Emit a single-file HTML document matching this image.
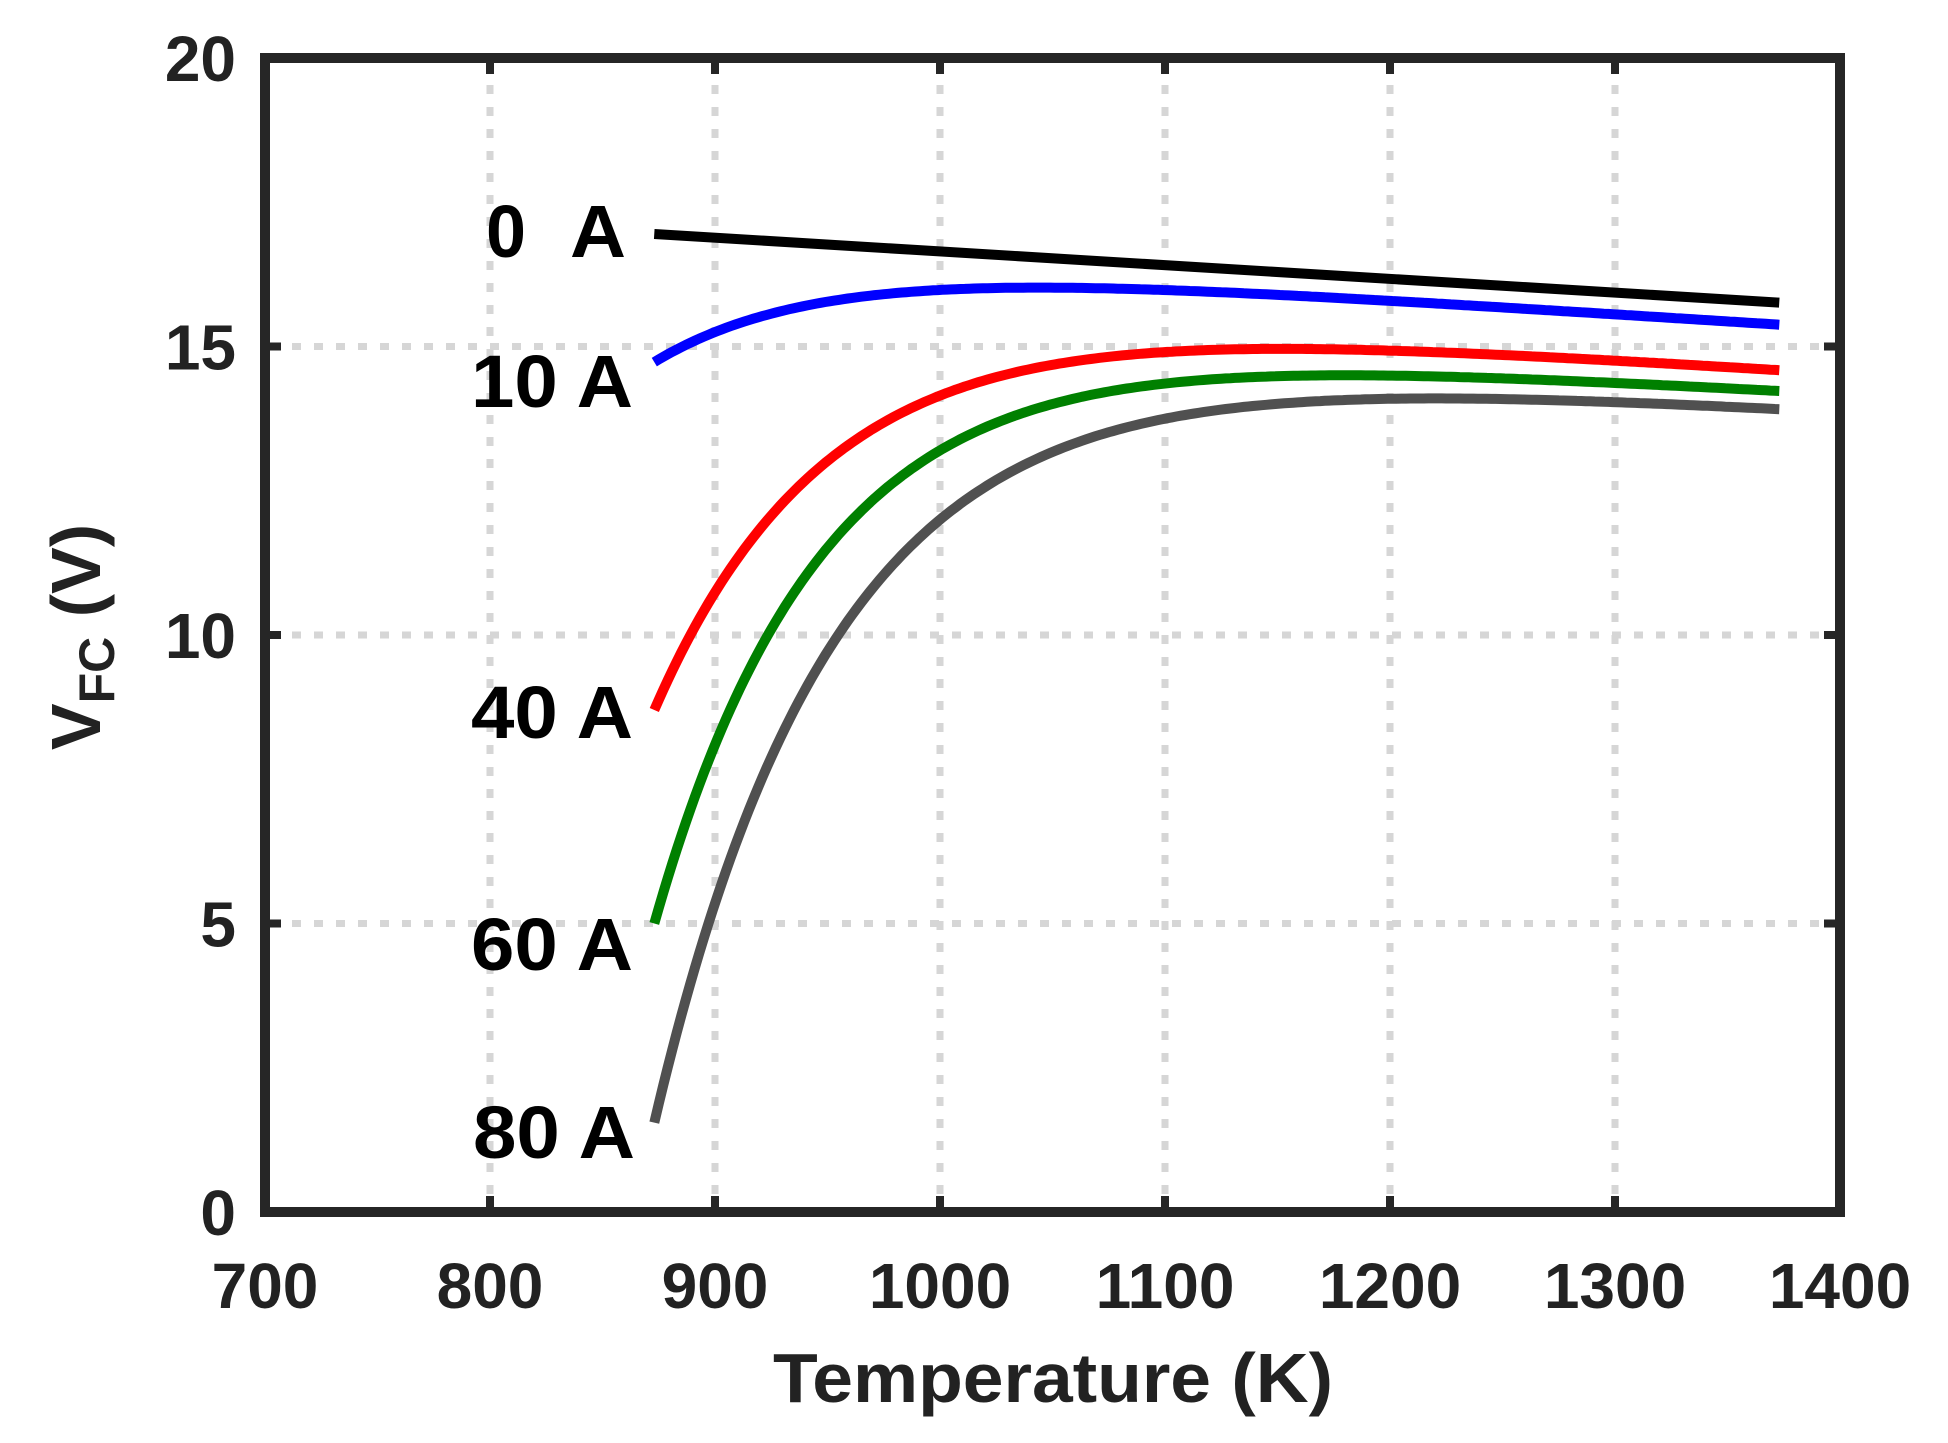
<!DOCTYPE html>
<html><head><meta charset="utf-8"><style>
html,body{margin:0;padding:0;background:#fff}
svg{display:block}
text{font-family:"Liberation Sans",Arial,sans-serif;font-weight:bold;fill:#222}
</style></head><body>
<svg id="s" width="1948" height="1443" viewBox="0 0 1948 1443" xmlns="http://www.w3.org/2000/svg">
<g id="grid" stroke="#d6d6d6" stroke-width="7" stroke-dasharray="9 13"></g>
<g id="curves" fill="none" stroke-width="10" stroke-linejoin="round"></g>
<rect x="265" y="58" width="1575" height="1154" fill="none" stroke="#262626" stroke-width="10"/>
<g id="ticks" stroke="#262626" stroke-width="8"></g>
<g id="labels" font-size="64"></g>
<g font-size="74">
<text x="486" y="257" style="fill:#000" textLength="40" lengthAdjust="spacingAndGlyphs">0</text>
<text x="570" y="257" style="fill:#000" textLength="56" lengthAdjust="spacingAndGlyphs">A</text>
<text x="633" y="407" text-anchor="end" style="fill:#000" textLength="162" lengthAdjust="spacingAndGlyphs">10 A</text>
<text x="633" y="738" text-anchor="end" style="fill:#000" textLength="162" lengthAdjust="spacingAndGlyphs">40 A</text>
<text x="633" y="970" text-anchor="end" style="fill:#000" textLength="162" lengthAdjust="spacingAndGlyphs">60 A</text>
<text x="635" y="1158" text-anchor="end" style="fill:#000" textLength="162" lengthAdjust="spacingAndGlyphs">80 A</text>
</g>
<text x="1053" y="1402" text-anchor="middle" font-size="70" textLength="560" lengthAdjust="spacingAndGlyphs">Temperature (K)</text>
<g transform="translate(100,637) rotate(-90)">
<text x="0" y="0" text-anchor="middle" font-size="70">V<tspan font-size="50" dy="14">FC</tspan><tspan dy="-14"> (V)</tspan></text>
</g>
</svg>
<script>
var NS="http://www.w3.org/2000/svg";
function X(t){return 265+(t-700)*2.25}
function Y(v){return 1212-v*57.7}
function el(p,tag,a){var e=document.createElementNS(NS,tag);for(var k in a)e.setAttribute(k,a[k]);p.appendChild(e);return e}
var g=document.getElementById('grid'),tk=document.getElementById('ticks'),lb=document.getElementById('labels');
for(var t=800;t<=1300;t+=100){el(g,'line',{x1:X(t),x2:X(t),y1:63,y2:1207});}
for(var v=5;v<=15;v+=5){el(g,'line',{x1:270,x2:1835,y1:Y(v),y2:Y(v)});}
for(var t=700;t<=1400;t+=100){
 if(t>700&&t<1400){el(tk,'line',{x1:X(t),x2:X(t),y1:1212,y2:1196});el(tk,'line',{x1:X(t),x2:X(t),y1:58,y2:74});}
 var e=el(lb,'text',{x:X(t),y:1308,'text-anchor':'middle'});e.textContent=t;
}
for(var v=0;v<=20;v+=5){
 if(v>0&&v<20){el(tk,'line',{x1:265,x2:281,y1:Y(v),y2:Y(v)});el(tk,'line',{x1:1840,x2:1824,y1:Y(v),y2:Y(v)});}
 var e=el(lb,'text',{x:236,y:Y(v)+23,'text-anchor':'end'});e.textContent=v;
}
var data=[
 ['#000',16.95,null,15.76,0],
 ['#0000ff',14.73,15.98,15.38,-0.0025],
 ['#ff0000',8.7,14.15,14.6,-0.0025],
 ['#008000',5.0,13.2,14.24,-0.0022],
 ['#505050',1.55,12.0,13.94,-0.0022]
];
var cg=document.getElementById('curves');
data.forEach(function(s){
 var d;
 if(s[2]===null){d='M'+X(873)+' '+Y(s[1])+' L'+X(1373)+' '+Y(s[3]);}
 else{
  var V0=s[1],Vm=s[2],V1=s[3],sl=s[4];
  var L=function(T){return V1+sl*(T-1373)};
  var D=L(873)-V0;
  var tau=-127/Math.log((L(1000)-Vm)/D);
  d='';
  for(var T=873;T<=1373.01;T+=2){
   var v=L(T)-D*Math.exp(-(T-873)/tau);
   d+=(d?' L':'M')+X(T).toFixed(1)+' '+Y(v).toFixed(1);
  }
 }
 el(cg,'path',{d:d,stroke:s[0]});
});
</script>
</body></html>
